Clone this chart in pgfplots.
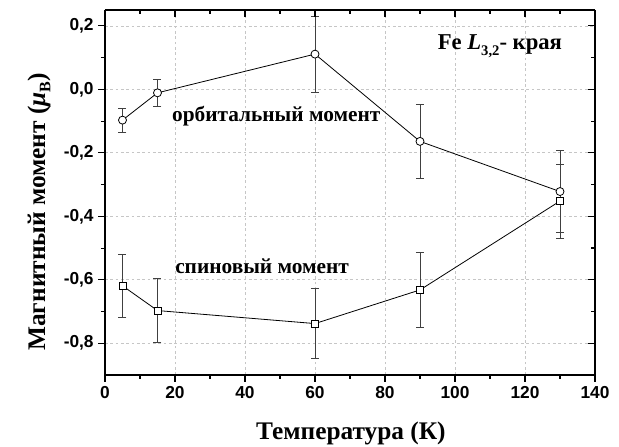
\documentclass[border=0pt]{standalone}
\usepackage{fontspec}
\setmainfont{Liberation Serif}
\setsansfont{Liberation Sans}
\usepackage{pgfplots}
\pgfplotsset{compat=1.18}

\pgfplotsset{
  frame/.style={
    scale only axis, width=367.5pt, height=273.75pt,
    xmin=0, xmax=140, ymin=-0.9, ymax=0.25,
    xtick={0,20,...,140}, ytick={-0.8,-0.6,...,0.2},
    minor x tick num=1, minor y tick num=1,
    major tick length=5pt, minor tick length=3pt,
    axis line style={line width=1pt},
    every tick/.style={black, line width=0.8pt},
  },
  ebar/.style={draw=none, mark=none, forget plot,
    error bars/.cd, y dir=both, y explicit,
    error bar style={black!75, line width=0.6pt},
    error mark options={black!75, line width=0.6pt, mark size=3pt, rotate=90}},
}

\pgfplotstableread{
T   m       e
5   -0.097  0.038
15  -0.011  0.043
60  0.111   0.120
90  -0.164  0.118
130 -0.322  0.130
}\orbital
\pgfplotstableread{
T   m       e
5   -0.619  0.100
15  -0.697  0.100
60  -0.738  0.111
90  -0.632  0.118
130 -0.352  0.117
}\spin

\begin{document}
\begin{tikzpicture}
\begin{axis}[frame,
  name=main,
  axis x line*=bottom, axis y line*=left,
  tick align=outside,
  grid=major,
  major grid style={gray!45, dash pattern=on 2pt off 2pt, line width=0.5pt},
  xticklabels={0,20,40,60,80,100,120,140},
  yticklabels={{-0,8},{-0,6},{-0,4},{-0,2},{0,0},{0,2}},
  ticklabel style={font=\sffamily\bfseries\fontsize{13}{15}\selectfont},
  xlabel={Температура (К)},
  ylabel={Магнитный момент (\textit{μ}\raisebox{-0.45ex}{\fontsize{12}{12}\selectfont B})},
  label style={font=\bfseries\fontsize{19}{22}\selectfont},
  xlabel style={at={(axis description cs:0.502,-0.178)}, anchor=base},
  ylabel style={at={(axis description cs:-0.1224,0.447)}, anchor=base},
]
% error bars first, so the open marks cover them
\addplot[ebar] table[x=T, y=m, y error=e] {\orbital};
\addplot[ebar] table[x=T, y=m, y error=e] {\spin};
% орбитальный момент
\addplot[black, line width=0.6pt, mark=*, mark size=3pt,
  mark options={fill=white, draw=black}] table[x=T, y=m] {\orbital};
% спиновый момент
\addplot[black, line width=0.6pt, mark=square*, mark size=2.6pt,
  mark options={fill=white, draw=black}] table[x=T, y=m] {\spin};
\node[anchor=base west, font=\bfseries\fontsize{17}{20}\selectfont, inner sep=0pt]
  at (axis cs:95,0.127) {Fe \textit{L}\raisebox{-0.6ex}{\fontsize{11}{11}\selectfont 3,2}- края};
\node[anchor=base west, font=\bfseries\fontsize{16}{19}\selectfont, inner sep=0pt]
  at (axis cs:19.1,-0.102) {орбитальный момент};
\node[anchor=base west, font=\bfseries\fontsize{16}{19}\selectfont, inner sep=0pt]
  at (axis cs:20,-0.581) {спиновый момент};
\end{axis}
\begin{axis}[frame,
  axis x line*=top, axis y line*=right,
  tick align=inside,
  xticklabels={}, yticklabels={},
]
\end{axis}
\pgfresetboundingbox
\path (main.south west) ++(-78.75pt,-54pt) coordinate (bl);
\path (main.north east) ++(18pt,7.5pt) coordinate (tr);
\path[use as bounding box] (bl) rectangle (tr);
\end{tikzpicture}
\end{document}
